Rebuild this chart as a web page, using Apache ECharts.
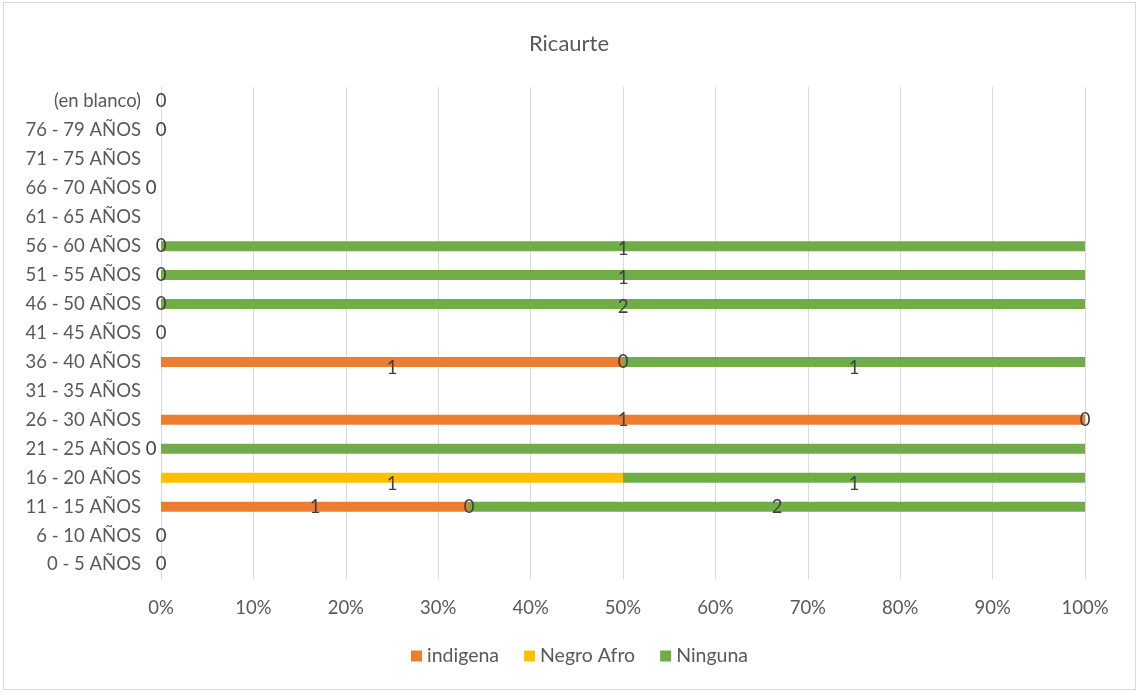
<!DOCTYPE html>
<html>
<head>
<meta charset="utf-8">
<script src="https://cdn.jsdelivr.net/npm/echarts@6/dist/echarts.min.js"></script>
<style>
  html, body { margin: 0; padding: 0; background: #fff; }
  #frame { position: absolute; left: 3px; top: 2px; width: 1131px; height: 686px; border: 1px solid #d9d9d9; }
  #chart { width: 1138px; height: 692px; position: absolute; left: 0; top: 0; }
</style>
</head>
<body>
<div id="frame"></div>
<div id="chart"></div>
<script>
// Age groups, bottom to top
const categories = [
  '0 - 5 AÑOS', '6 - 10 AÑOS', '11 - 15 AÑOS', '16 - 20 AÑOS', '21 - 25 AÑOS',
  '26 - 30 AÑOS', '31 - 35 AÑOS', '36 - 40 AÑOS', '41 - 45 AÑOS', '46 - 50 AÑOS',
  '51 - 55 AÑOS', '56 - 60 AÑOS', '61 - 65 AÑOS', '66 - 70 AÑOS', '71 - 75 AÑOS',
  '76 - 79 AÑOS', '(en blanco)'
];

// Counts per group (null = no entry)
const indigena  = [0, 0, 1, null, 0, 1, null, 1, 0, 0, 0, 0, null, 0, null, 0, 0];
const negroAfro = [null, null, 0, 1, null, 0, null, 0, null, null, null, null, null, null, null, null, null];
const ninguna   = [null, null, 2, 1, 1, null, null, 1, null, 2, 1, 1, null, null, null, null, null];

const seriesNames = ['indigena', 'Negro Afro', 'Ninguna'];
const seriesColors = ['#ED7D31', '#FFC000', '#70AD47'];
const xTicks = ['0%', '10%', '20%', '30%', '40%', '50%', '60%', '70%', '80%', '90%', '100%'];

const counts = [indigena, negroAfro, ninguna];

// Label placement tweaks: [seriesIndex, categoryIndex] -> {offset, show}
const labelTweaks = {
  '0,3': { show: false },
  '0,4': { offset: [-10, 0] },
  '0,13': { offset: [-10, 0] },
  '2,4': { show: false },
  '0,7': { offset: [0, 6] },
  '2,7': { offset: [0, 6] },
  '1,3': { offset: [0, 6] },
  '2,3': { offset: [0, 6] },
  '2,9': { offset: [0, 3] },
  '2,10': { offset: [0, 3] },
  '2,11': { offset: [0, 3] }
};

const totals = categories.map((_, i) =>
  counts.reduce((s, arr) => s + (arr[i] == null ? 0 : arr[i]), 0));

const FONT = 'Lato';

const series = counts.map((arr, si) => ({
  name: seriesNames[si],
  type: 'bar',
  stack: 'total',
  barWidth: 10,
  itemStyle: { color: seriesColors[si] },
  label: {
    show: true,
    position: 'inside',
    color: '#404040',
    fontSize: 18.5,
    fontFamily: FONT,
    formatter: p => (p.data && p.data.count != null) ? String(p.data.count) : ''
  },
  data: arr.map((c, ci) => {
    if (c == null) return null;
    const pct = totals[ci] > 0 ? c / totals[ci] * 100 : 0;
    const t = labelTweaks[si + ',' + ci] || {};
    const item = { value: pct, count: c };
    item.label = {};
    if (t.show === false) item.label.show = false;
    if (t.offset) item.label.offset = t.offset;
    return item;
  })
}));

const chart = echarts.init(document.getElementById('chart'));
chart.setOption({
  animation: false,
  backgroundColor: 'transparent',
  title: {
    text: 'Ricaurte',
    left: 'center',
    top: 28,
    textStyle: { color: '#595959', fontSize: 22, fontWeight: 'normal', fontFamily: FONT }
  },
  legend: {
    bottom: 21,
    left: 406,
    icon: 'rect',
    itemWidth: 11,
    itemHeight: 11,
    itemGap: 25,
    textStyle: { color: '#595959', fontSize: 19.5, fontFamily: FONT },
    data: seriesNames
  },
  grid: { left: 161, right: 53, top: 87, bottom: 113 },
  xAxis: {
    type: 'value',
    min: 0,
    max: 100,
    interval: 10,
    axisLine: { show: false },
    axisTick: { show: false },
    splitLine: { lineStyle: { color: '#d9d9d9', width: 1 } },
    axisLabel: {
      color: '#595959',
      fontSize: 18.5,
      fontFamily: FONT,
      margin: 20,
      formatter: v => xTicks[Math.round(v / 10)]
    }
  },
  yAxis: {
    type: 'category',
    data: categories,
    axisLine: { show: true, lineStyle: { color: '#d9d9d9' } },
    axisTick: { show: false },
    axisLabel: { color: '#595959', fontSize: 18.5, fontFamily: FONT, margin: 20 }
  },
  series: series
});
</script>
</body>
</html>
